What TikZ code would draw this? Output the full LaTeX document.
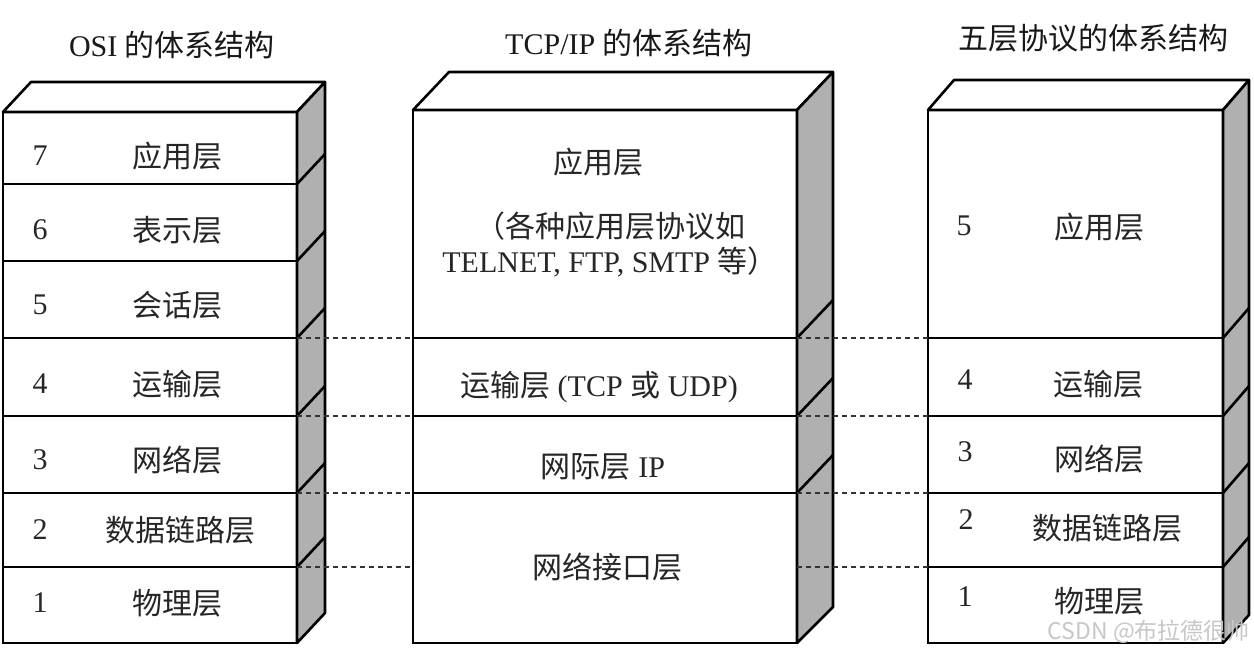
\documentclass[tikz,border=0pt]{standalone}
\usepackage{fontspec}
\setmainfont{Liberation Serif}
\newfontfamily\cjk{Noto Sans CJK SC}
\newfontfamily\wmfont{Noto Sans CJK SC}
\newcommand\zh[1]{{\cjk #1}}
\usetikzlibrary{calc}
\definecolor{sidegray}{RGB}{176,176,176}
\begin{document}
\begin{tikzpicture}[x=1pt,y=-1pt,
  box/.style={draw, line width=2.6pt, fill=white, outer sep=0pt, inner sep=0pt, anchor=north west},
  edge/.style={line width=2.6pt, line join=round},
  link/.style={line width=1.6pt, dash pattern=on 5pt off 4pt, draw=black!80},
  txt/.style={font=\fontsize{30}{36}\selectfont, inner sep=0pt, text=black!85},
  ttl/.style={font=\fontsize{30}{36}\selectfont, inner sep=0pt, text=black!90}]
\useasboundingbox (0,0) rectangle (1254,654);
\fill[white] (0,0) rectangle (1254,654);

% ---------- OSI ----------
\node[box, minimum width=294pt, minimum height=72pt] (o7) at (3,112) {};
\node[box, minimum width=294pt, minimum height=77pt] (o6) at (3,184) {};
\node[box, minimum width=294pt, minimum height=77pt] (o5) at (3,261) {};
\node[box, minimum width=294pt, minimum height=78pt] (o4) at (3,338) {};
\node[box, minimum width=294pt, minimum height=77pt] (o3) at (3,416) {};
\node[box, minimum width=294pt, minimum height=74pt] (o2) at (3,493) {};
\node[box, minimum width=294pt, minimum height=76pt] (o1) at (3,567) {};
\draw[edge, fill=white] (o7.north west) -- ++(28,-30) -- ++(294,0) -- (o7.north east) -- cycle;
\draw[edge, fill=sidegray] (o7.north east) -- ++(28,-30) -- ($(o1.south east)+(28,-30)$) -- (o1.south east) -- cycle;
\foreach \n in {o6,o5,o4,o3,o2,o1} \draw[edge] (\n.north east) -- ++(28,-30);

% ---------- TCP/IP ----------
\node[box, minimum width=384pt, minimum height=228pt] (ta) at (413,110) {};
\node[box, minimum width=384pt, minimum height=78pt] (tt) at (413,338) {};
\node[box, minimum width=384pt, minimum height=77pt] (ti) at (413,416) {};
\node[box, minimum width=384pt, minimum height=150pt] (tn) at (413,493) {};
\draw[edge, fill=white] (ta.north west) -- ++(36,-38) -- ++(384,0) -- (ta.north east) -- cycle;
\draw[edge, fill=sidegray] (ta.north east) -- ++(36,-38) -- ($(tn.south east)+(36,-36)$) -- (tn.south east) -- cycle;
\foreach \n in {tt,ti,tn} \draw[edge] (\n.north east) -- ++(36,-38);

% ---------- Five layers ----------
\node[box, minimum width=295pt, minimum height=228pt] (f5) at (928,110) {};
\node[box, minimum width=295pt, minimum height=78pt] (f4) at (928,338) {};
\node[box, minimum width=295pt, minimum height=77pt] (f3) at (928,416) {};
\node[box, minimum width=295pt, minimum height=74pt] (f2) at (928,493) {};
\node[box, minimum width=295pt, minimum height=76pt] (f1) at (928,567) {};
\draw[edge, fill=white] (f5.north west) -- ++(26,-30) -- ++(295,0) -- (f5.north east) -- cycle;
\draw[edge, fill=sidegray] (f5.north east) -- ++(26,-30) -- ($(f1.south east)+(26,-28)$) -- (f1.south east) -- cycle;
\foreach \n in {f4,f3,f2,f1} \draw[edge] (\n.north east) -- ++(26,-30);

% ---------- dashed links ----------
\coordinate (tL) at (413,567);
\coordinate (tR) at (797,567);
\draw[link] (o4.north east) -- (tt.north west);
\draw[link] (o3.north east) -- (ti.north west);
\draw[link] (o2.north east) -- (tn.north west);
\draw[link] (o1.north east) -- (tL);
\draw[link] (tt.north east) -- (f4.north west);
\draw[link] (ti.north east) -- (f3.north west);
\draw[link] (tn.north east) -- (f2.north west);
\draw[link] (tR) -- (f1.north west);

% ---------- titles ----------
\node[ttl] (h1) at (172,45) {OSI \zh{的体系结构}};
\node[ttl] (h2) at (629,43) {TCP/IP \zh{的体系结构}};
\node[ttl] (h3) at (1093,38) {\zh{五层协议的体系结构}};

% ---------- OSI labels ----------
\node[txt] (n7) at (40,156) {7};  \node[txt] (l7) at (177,156) {\zh{应用层}};
\node[txt] (n6) at (40,230) {6};  \node[txt] (l6) at (177,230) {\zh{表示层}};
\node[txt] (n5) at (40,305) {5};  \node[txt] (l5) at (177,305) {\zh{会话层}};
\node[txt] (n4) at (40,384) {4};  \node[txt] (l4) at (177,384) {\zh{运输层}};
\node[txt] (n3) at (40,460) {3};  \node[txt] (l3) at (177,460) {\zh{网络层}};
\node[txt] (n2) at (40,530) {2};  \node[txt] (l2) at (180,530) {\zh{数据链路层}};
\node[txt] (n1) at (40,603) {1};  \node[txt] (l1) at (177,603) {\zh{物理层}};

% ---------- TCP/IP labels ----------
\node[txt] (ta1) at (598,162) {\zh{应用层}};
\node[txt] (ta2) at (610,226) {\zh{（各种应用层协议如}};
\node[txt] (ta3) at (610,262) {TELNET, FTP, SMTP \zh{等）}};
\node[txt] (tt1) at (599,387) {\zh{运输层} (TCP \zh{或} UDP)};
\node[txt] (ti1) at (603,467) {\zh{网际层} IP};
\node[txt] (tn1) at (607,567) {\zh{网络接口层}};

% ---------- Five-layer labels ----------
\node[txt] (m5) at (964,226) {5};  \node[txt] (k5) at (1099,227) {\zh{应用层}};
\node[txt] (m4) at (965,380) {4};  \node[txt] (k4) at (1098,384) {\zh{运输层}};
\node[txt] (m3) at (965,452) {3};  \node[txt] (k3) at (1099,459) {\zh{网络层}};
\node[txt] (m2) at (966,520) {2};  \node[txt] (k2) at (1107,528) {\zh{数据链路层}};
\node[txt] (m1) at (965,597) {1};  \node[txt] (k1) at (1099,601) {\zh{物理层}};

% ---------- watermark ----------
\node[font=\wmfont\fontsize{23}{26}\selectfont, text=black!22, inner sep=0pt, anchor=east] (wm) at (1250,632) {CSDN @布拉德很帅};
\end{tikzpicture}
\end{document}
